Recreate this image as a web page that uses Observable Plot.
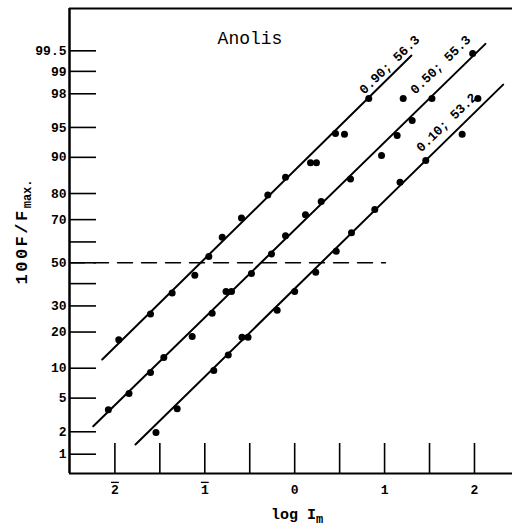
<!DOCTYPE html>
<html>
<head>
<meta charset="utf-8">
<script src="https://cdn.jsdelivr.net/npm/d3@7"></script>
<script src="https://cdn.jsdelivr.net/npm/@observablehq/plot@0.6"></script>
<style>
  html, body { margin: 0; padding: 0; background: #fff; }
</style>
</head>
<body>
<div id="chart"></div>
<script>
// ---- data (x = log I_m, p = 100F/Fmax in percent) ----
const seriesNames = ["0.90; 56.3", "0.50; 55.3", "0.10; 53.2"];

const s1x = [-1.957, -1.604, -1.363, -1.111, -0.955, -0.806, -0.592, -0.299, -0.102, 0.176, 0.242, 0.454, 0.554, 0.824];
const s1p = [17.5, 26.7, 35.7, 44.0, 53.0, 62.2, 70.7, 79.5, 85.1, 88.8, 88.8, 94.2, 94.1, 97.7];

const s2x = [-2.073, -1.843, -1.604, -1.456, -1.140, -0.918, -0.764, -0.703, -0.481, -0.258, -0.102, 0.120, 0.295, 0.621, 0.966, 1.140, 1.307, 1.207, 1.527, 1.980];
const s2p = [3.7, 5.6, 9.1, 12.5, 18.5, 27.0, 36.3, 36.3, 44.8, 54.3, 62.9, 72.0, 77.2, 84.6, 90.4, 93.9, 95.8, 97.7, 97.7, 99.45];

const s3x = [-1.543, -1.307, -0.900, -0.739, -0.586, -0.519, -0.195, 0.000, 0.234, 0.462, 0.632, 0.891, 1.172, 1.458, 1.863, 2.038];
const s3p = [1.96, 3.8, 9.5, 13.1, 18.3, 18.3, 28.2, 36.3, 45.4, 55.6, 64.2, 74.1, 83.6, 89.3, 94.1, 97.7];

// fitted straight lines (endpoints)
const fitX = [[-2.141, 1.299], [-2.241, 2.122], [-1.771, 2.319]];
const fitP = [[12.0, 99.41], [2.35, 99.61], [1.36, 98.48]];

// line label anchor points
const labelX = [1.054, 1.622, 1.688];
const labelP = [99.2, 99.2, 95.6];

// reference (dashed) line at 50%
const refP = 50;
const refX = [-2.505, 1.01];

// axes
const xDomain = [-2.505, 2.423];
const yDomainPct = [0.522, 99.9];
const xTicks = [-2, -1.5, -1, -0.5, 0, 0.5, 1, 1.5, 2];
const xTickLabels = ["2\u0304", "", "1\u0304", "", "0", "", "1", "", "2"];
const yTicks = [1, 2, 5, 10, 20, 30, 40, 50, 60, 70, 80, 90, 95, 98, 99, 99.5];
const yTickLabels = ["1", "2", "5", "10", "20", "30", "", "50", "", "70", "80", "90", "95", "98", "99", "99.5"];

const title = "Anolis";
const xTitle = "log Im";
const yTitle = "100F/Fmax.";

// ---- probit transform (inverse normal CDF, Acklam) ----
function probit(pct) {
  const p = pct / 100;
  const a=[-3.969683028665376e+01,2.209460984245205e+02,-2.759285104469687e+02,1.383577518672690e+02,-3.066479806614716e+01,2.506628277459239e+00];
  const b=[-5.447609879822406e+01,1.615858368580409e+02,-1.556989798598866e+02,6.680131188771972e+01,-1.328068155288572e+01];
  const c=[-7.784894002430293e-03,-3.223964580411365e-01,-2.400758277161838e+00,-2.549732539343734e+00,4.374664141464968e+00,2.938163982698783e+00];
  const d=[7.784695709041462e-03,3.224671290700398e-01,2.445134137142996e+00,3.754408661907416e+00];
  const pl = 0.02425, ph = 1 - pl;
  let q, r;
  if (p < pl) {
    q = Math.sqrt(-2 * Math.log(p));
    return (((((c[0]*q+c[1])*q+c[2])*q+c[3])*q+c[4])*q+c[5]) / ((((d[0]*q+d[1])*q+d[2])*q+d[3])*q+1);
  }
  if (p <= ph) {
    q = p - 0.5; r = q * q;
    return (((((a[0]*r+a[1])*r+a[2])*r+a[3])*r+a[4])*r+a[5])*q / (((((b[0]*r+b[1])*r+b[2])*r+b[3])*r+b[4])*r+1);
  }
  q = Math.sqrt(-2 * Math.log(1 - p));
  return -(((((c[0]*q+c[1])*q+c[2])*q+c[3])*q+c[4])*q+c[5]) / ((((d[0]*q+d[1])*q+d[2])*q+d[3])*q+1);
}

// ---- build tables ----
const points = [];
[[s1x, s1p], [s2x, s2p], [s3x, s3p]].forEach(([xs, ps], i) => {
  xs.forEach((x, j) => points.push({series: seriesNames[i], x, z: probit(ps[j])}));
});
const fits = [];
fitX.forEach((xs, i) => xs.forEach((x, j) => fits.push({series: seriesNames[i], x, z: probit(fitP[i][j])})));
const labels = seriesNames.map((s, i) => ({text: s, x: labelX[i], z: probit(labelP[i])}));

const yTickZ = yTicks.map(probit);
const yLabelMap = new Map(yTickZ.map((z, i) => [z, yTickLabels[i]]));
const xLabelMap = new Map(xTicks.map((x, i) => [x, xTickLabels[i]]));
const yDomain = yDomainPct.map(probit);

const FONT = "Liberation Mono";

const chart = Plot.plot({
  width: 512,
  height: 531,
  marginLeft: 69,
  marginRight: 0,
  marginTop: 8,
  marginBottom: 58,
  style: {fontFamily: FONT, background: "#fff", color: "#000"},
  x: {domain: xDomain},
  y: {domain: yDomain},
  marks: [
    // frame: left, top, bottom
    Plot.ruleX([xDomain[0]], {stroke: "#000", strokeWidth: 2.5}),
    Plot.ruleY([yDomain[1]], {stroke: "#000", strokeWidth: 2}),
    Plot.ruleY([yDomain[0]], {stroke: "#000", strokeWidth: 2}),
    // y axis: inward ticks, labels outside
    Plot.axisY({
      ticks: yTickZ, tickSize: -27, tickPadding: 30, strokeWidth: 1.6,
      tickFormat: d => yLabelMap.get(d) ?? "",
      fontSize: 13, fontWeight: "bold", label: null
    }),
    // x axis: inward ticks, labels below
    Plot.axisX({
      ticks: xTicks, tickSize: -30, tickPadding: 41, strokeWidth: 1.6,
      tickFormat: d => xLabelMap.get(d) ?? "",
      fontSize: 13, fontWeight: "bold", label: null
    }),
    // dashed 50% reference line
    Plot.line(refX.map(x => ({x, z: probit(refP)})), {x: "x", y: "z", stroke: "#000", strokeWidth: 1.5, strokeDasharray: "15,9"}),
    // fitted lines
    Plot.line(fits, {x: "x", y: "z", z: "series", stroke: "#000", strokeWidth: 2}),
    // data points
    Plot.dot(points, {x: "x", y: "z", r: 3.5, fill: "#000", stroke: null}),
    // line labels
    Plot.text(labels, {x: "x", y: "z", text: "text", rotate: -44, fontSize: 13, fontWeight: "bold", fill: "#000"}),
    // title
    Plot.text([title], {frameAnchor: "top", dx: -41, dy: 35, lineAnchor: "bottom", textAnchor: "middle", fontSize: 18, fill: "#000"}),
    // x title
    Plot.text([xTitle], {frameAnchor: "bottom", dx: 6, dy: 45, lineAnchor: "bottom", textAnchor: "middle", fontSize: 15, fontWeight: "bold", fill: "#000", className: "xtitle"}),
    // y title
    Plot.text([yTitle], {frameAnchor: "left", dx: -48, dy: -9, rotate: -90, textAnchor: "middle", fontSize: 17, fontWeight: "bold", fill: "#000", className: "ytitle"})
  ]
});

// subscripts for axis titles
const NS = "http://www.w3.org/2000/svg";
function subscript(sel, main, sub, size, spacing) {
  chart.querySelectorAll(sel + " text").forEach(t => {
    t.textContent = "";
    const m = document.createElementNS(NS, "tspan");
    m.textContent = main;
    if (spacing) m.setAttribute("letter-spacing", spacing);
    t.appendChild(m);
    const ts = document.createElementNS(NS, "tspan");
    ts.setAttribute("dy", "0.35em");
    ts.setAttribute("font-size", size);
    ts.textContent = sub;
    t.appendChild(ts);
  });
}
subscript(".xtitle", "log I", "m", 12, null);
subscript(".ytitle", "100F/F", "max.", 12, "2.5px");

// negative characteristic labels: draw the bar as an overline
chart.querySelectorAll("text").forEach(t => {
  if (t.textContent.includes("\u0304")) {
    t.textContent = t.textContent.replace("\u0304", "");
    t.style.textDecoration = "overline";
  }
});

document.getElementById("chart").appendChild(chart);
</script>
</body>
</html>
